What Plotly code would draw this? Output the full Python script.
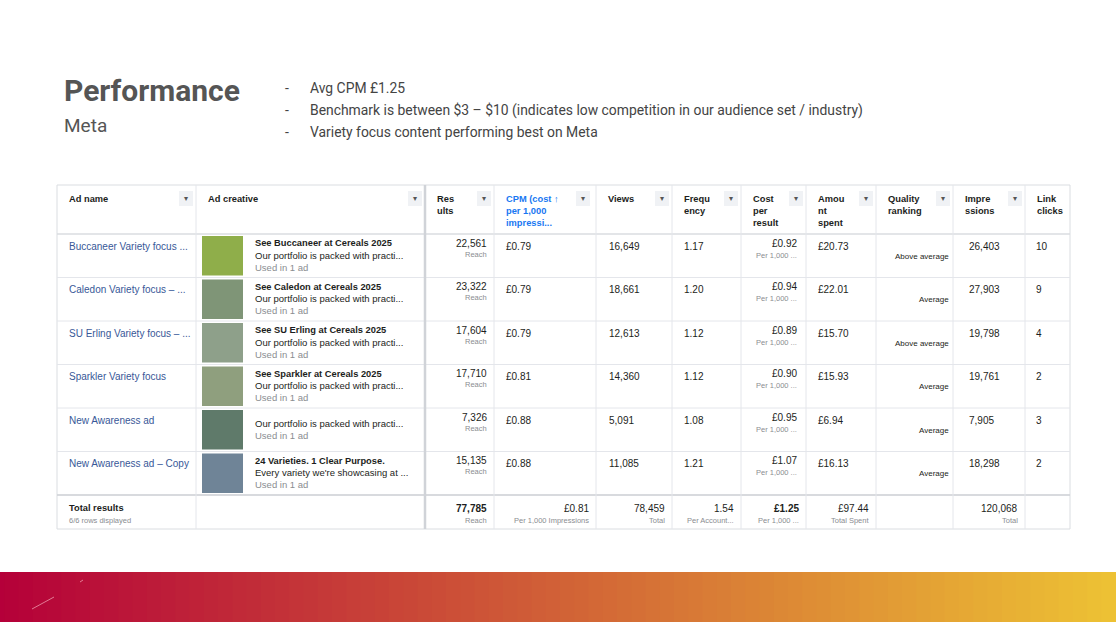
import plotly.graph_objects as go

ad_names = ["Buccaneer Variety focus ...", "Caledon Variety focus – ...", "SU Erling Variety focus – ...",
            "Sparkler Variety focus", "New Awareness ad", "New Awareness ad – Copy"]
creative_titles = ["See Buccaneer at Cereals 2025", "See Caledon at Cereals 2025", "See SU Erling at Cereals 2025",
                   "See Sparkler at Cereals 2025", "", "24 Varieties. 1 Clear Purpose."]
creative_desc = ["Our portfolio is packed with practi..."] * 5 + ["Every variety we're showcasing at ..."]
results = ["22,561", "23,322", "17,604", "17,710", "7,326", "15,135"]
cpm = ["£0.79", "£0.79", "£0.79", "£0.81", "£0.88", "£0.88"]
views = ["16,649", "18,661", "12,613", "14,360", "5,091", "11,085"]
frequency = ["1.17", "1.20", "1.12", "1.12", "1.08", "1.21"]
cost_per_result = ["£0.92", "£0.94", "£0.89", "£0.90", "£0.95", "£1.07"]
amount_spent = ["£20.73", "£22.01", "£15.70", "£15.93", "£6.94", "£16.13"]
quality = ["Above average", "Average", "Above average", "Average", "Average", "Average"]
impressions = ["26,403", "27,903", "19,798", "19,761", "7,905", "18,298"]
link_clicks = ["10", "9", "4", "2", "3", "2"]
thumb_colors = ["#8fae4a", "#7f9577", "#8ea08a", "#8f9f7e", "#5f7a6a", "#6f8497"]

headers = ["Ad name", "Ad creative", "Res<br>ults", "CPM (cost ↑<br>per 1,000<br>impressi...", "Views",
           "Frequ<br>ency", "Cost<br>per<br>result", "Amou<br>nt<br>spent", "Quality<br>ranking",
           "Impre<br>ssions", "Link<br>clicks"]
col_edges = [57, 196, 425, 494, 596, 672, 741, 806, 876, 953, 1025, 1070]
bullets = ["Avg CPM £1.25",
           "Benchmark is between $3 – $10 (indicates low competition in our audience set / industry)",
           "Variety focus content performing best on Meta"]

totals_main = ["77,785", "£0.81", "78,459", "1.54", "£1.25", "£97.44", "120,068"]
totals_sub = ["Reach", "Per 1,000 Impressions", "Total", "Per Account...", "Per 1,000 ...", "Total Spent", "Total"]
totals_cols = [2, 3, 4, 5, 6, 7, 9]

F = "Liberation Sans, Arial"
shapes, ann = [], []

def txt(x, y, s, size=10, color="#1c1e21", anchor="left", bold=False, font=F, va="middle"):
    if bold:
        s = "<b>" + s + "</b>"
    ann.append(dict(x=x, y=y, text=s, showarrow=False, xanchor=anchor, yanchor=va,
                    font=dict(size=size, color=color, family=font), xref="x", yref="y", align=anchor))

def rect(x0, y0, x1, y1, fill, line=None, lw=0):
    shapes.append(dict(type="rect", x0=x0, y0=y0, x1=x1, y1=y1, fillcolor=fill,
                       line=dict(color=line or fill, width=lw), xref="x", yref="y", layer="below"))

def line(x0, y0, x1, y1, c="#dadde1", w=1):
    shapes.append(dict(type="line", x0=x0, y0=y0, x1=x1, y1=y1, line=dict(color=c, width=w), xref="x", yref="y"))

# gradient bar
N = 80
c0, c1 = (181, 0, 58), (238, 196, 52)
for i in range(N):
    t = i / (N - 1)
    c = tuple(int(c0[k] + (c1[k] - c0[k]) * t) for k in range(3))
    rect(-10 + 1140 * i / N, 572, -10 + 1140 * (i + 1) / N + 1, 640, "rgb(%d,%d,%d)" % c)
line(32, 609, 54, 597, "rgba(255,200,210,0.6)", 1)
line(80, 582, 83, 580, "rgba(255,200,210,0.6)", 1)

# title
txt(62, 90, "Performance", 30, "#555555", bold=True, font="Roboto")
txt(62, 125, "Meta", 19, "#555555", font="Roboto")
for i, b in enumerate(bullets):
    y = 88 + 22 * i
    txt(283, y, "-", 14, "#444444", font="Roboto")
    txt(308, y, b, 13.9, "#444444", font="Roboto")

# table frame
top, head_b, row_h, n = 185, 234, 43.5, len(ad_names)
tot_t = head_b + row_h * n
bottom = tot_t + 34
rect(57, top, 1070, bottom, "white", "#dadde1", 1)
line(57, head_b, 1070, head_b, "#dadde1", 1.5)
for i in range(1, n + 1):
    line(57, head_b + row_h * i, 1070, head_b + row_h * i, "#e4e6eb", 1)
line(57, tot_t, 1070, tot_t, "#cfd2d6", 1.5)
for j, xe in enumerate(col_edges[1:-1], start=1):
    line(xe, top, xe, bottom, "#d0d3d8" if j == 2 else "#e4e6eb", 2.5 if j == 2 else 1)

# headers
for j, h in enumerate(headers):
    x0, x1 = col_edges[j], col_edges[j + 1]
    col = "#1877f2" if j == 3 else "#1c1e21"
    txt(x0 + 10, 192, h, 9.3, col, bold=True, va="top")
    if j < 10:
        bx = x1 - 17 if j != 3 else x1 - 20
        rect(bx, 191, bx + 14, 206, "#f0f2f5")
        txt(bx + 7, 198.5, "▾", 8, "#555", anchor="center")

for i in range(n):
    r = head_b + row_h * i
    txt(67, r + 12, ad_names[i], 10, "#385898")
    rect(202, r + 2, 243, r + row_h - 2, thumb_colors[i])
    if creative_titles[i]:
        txt(253, r + 9, creative_titles[i], 9.3, bold=True)
        txt(253, r + 21, creative_desc[i], 9.5)
        txt(253, r + 33, "Used in 1 ad", 9.5, "#8a8d91")
    else:
        txt(253, r + 15, creative_desc[i], 9.5)
        txt(253, r + 27, "Used in 1 ad", 9.5, "#8a8d91")
    txt(489, r + 9, results[i], 10, anchor="right")
    txt(489, r + 20, "Reach", 7.5, "#8a8d91", anchor="right")
    txt(504, r + 12, cpm[i], 10)
    txt(607, r + 12, views[i], 10)
    txt(682, r + 12, frequency[i], 10)
    txt(799, r + 9, cost_per_result[i], 10, anchor="right")
    txt(799, r + 21, "Per 1,000 ...", 7.5, "#8a8d91", anchor="right")
    txt(816, r + 12, amount_spent[i], 10)
    txt(951, r + 22, quality[i], 8, anchor="right")
    txt(967, r + 12, impressions[i], 10)
    txt(1034, r + 12, link_clicks[i], 10)

txt(67, tot_t + 13, "Total results", 9.3, bold=True)
txt(67, tot_t + 25, "6/6 rows displayed", 7.5, "#8a8d91")
for k, j in enumerate(totals_cols):
    xr = col_edges[j + 1] - 5
    txt(xr, tot_t + 13, totals_main[k], 10, anchor="right", bold=(k in (0, 4)))
    txt(xr, tot_t + 25, totals_sub[k], 7.5, "#8a8d91", anchor="right")

fig = go.Figure()
fig.update_layout(width=1116, height=622, margin=dict(l=0, r=0, t=0, b=0),
                  paper_bgcolor="white", plot_bgcolor="white", shapes=shapes, annotations=ann,
                  xaxis=dict(range=[0, 1116], visible=False, fixedrange=True),
                  yaxis=dict(range=[622, 0], visible=False, fixedrange=True), showlegend=False)
fig.write_html("out.html", config={"displayModeBar": False},
               post_script="document.body.style.margin='0';document.body.style.overflow='hidden';")
